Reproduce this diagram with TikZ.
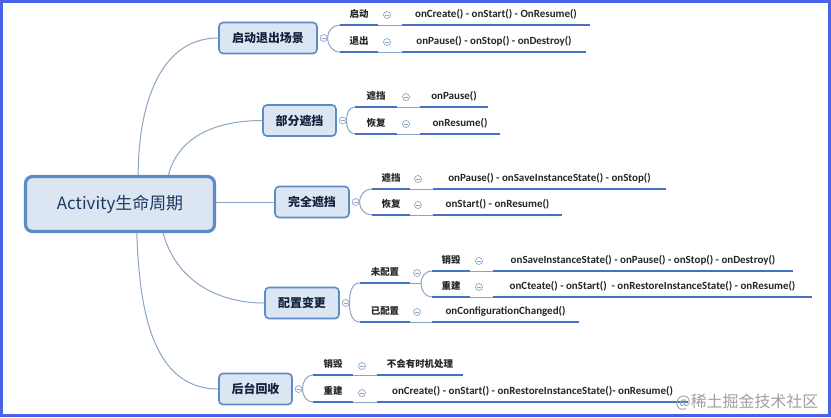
\documentclass[tikz,border=0pt]{standalone}
\usepackage{fontspec}
\usetikzlibrary{positioning}
\newfontfamily\cjk{Noto Sans CJK SC}
\newfontfamily\callfont{Carlito}
\definecolor{edgeblue}{RGB}{91,140,200}
\definecolor{fillblue}{RGB}{220,230,242}
\definecolor{twiggray}{RGB}{140,165,195}
\definecolor{lineblue}{RGB}{68,114,196}
\definecolor{rimblue}{RGB}{72,98,232}
\definecolor{inkblue}{RGB}{31,56,100}
\tikzstyle{rim}=[draw=rimblue,line width=3bp,fill=white]
\tikzstyle{root}=[rectangle,rounded corners=7bp,draw=edgeblue,line width=3.2bp,fill=fillblue,minimum width=189bp,minimum height=55bp,inner sep=0pt,font=\cjk\fontsize{17}{20}\selectfont,text=inkblue]
\tikzstyle{topic}=[rectangle,rounded corners=4bp,draw=edgeblue,line width=1.6bp,fill=fillblue,minimum height=31bp,inner sep=0pt,font=\cjk\bfseries\fontsize{12}{14}\selectfont,text=inkblue!60!black]
\tikzstyle{knob}=[circle,draw=twiggray,fill=white,line width=0.7bp,minimum size=7bp,inner sep=0pt,path picture={\draw[twiggray,line width=0.6bp] ([xshift=-2bp]path picture bounding box.center) -- ([xshift=2bp]path picture bounding box.center);}]
\tikzstyle{uline}=[draw=lineblue,line width=2.6bp]
\tikzstyle{twig}=[draw=twiggray,line width=1bp]
\tikzstyle{tagnode}=[anchor=south,inner sep=0pt,minimum height=20bp,text height=7bp,text depth=1bp,text=black!85,font=\cjk\bfseries\fontsize{9.5}{11}\selectfont,append after command={(\tikzlastnode.south west) edge[uline] (\tikzlastnode.south east)}]
\tikzstyle{callnode}=[tagnode,font=\callfont\bfseries\fontsize{11}{13}\selectfont]
\begin{document}
\begin{tikzpicture}[x=1bp,y=-1bp]
    \useasboundingbox (0,0) rectangle (831,417);
    \draw [rim] (1.5,1.5) rectangle (829.5,415.5);

    % centre and main topics
    \node (root) at (120,204) [root] {Activity生命周期};
    \node (t1) at (268,38) [topic,minimum width=98bp] {启动退出场景};
    \node (t2) at (299.5,120.5) [topic,minimum width=73bp] {部分遮挡};
    \node (t3) at (312,202) [topic,minimum width=74bp] {完全遮挡};
    \node (t4) at (302,303) [topic,minimum width=74bp] {配置变更};
    \node (t5) at (255.5,389) [topic,minimum width=73bp] {后台回收};

    \draw [twig] (root.58) to[out=90,in=180] (t1.west);
    \draw [twig] (root.31) to[out=75,in=180] (t2.west);
    \draw [twig] (root.east |- t3.west) -- (t3.west);
    \draw [twig] (root.-34) to[out=-75,in=180] (t4.west);
    \draw [twig] (root.-60) to[out=-88,in=180] (t5.west);

    \node (k1) [knob,right=2bp of t1] {};
    \node (k2) [knob,right=2bp of t2] {};
    \node (k3) [knob,right=2bp of t3] {};
    \node (k4) [knob,right=2bp of t4] {};
    \node (k5) [knob,right=2bp of t5] {};

    % 启动退出场景
    \node (g11) [tagnode,minimum width=38bp] at (359,25) {启动};
    \node (g12) [tagnode,minimum width=38bp] at (359,52) {退出};
    \node (m11) [knob] at (387,15) {};
    \node (m12) [knob] at (387,42) {};
    \node (v11) [callnode,minimum width=188bp] at (496,25) {onCreate() - onStart() - OnResume()};
    \node (v12) [callnode,minimum width=184bp] at (494,52) {onPause() - onStop() - onDestroy()};
    \draw [twig] (k1.east) to[out=90,in=180] (g11.south west);
    \draw [twig] (k1.east) to[out=-90,in=180] (g12.south west);
    \draw [twig] (g11.south east) -- (v11.south west);
    \draw [twig] (g12.south east) -- (v12.south west);

    % 部分遮挡
    \node (g21) [tagnode,minimum width=42bp] at (376,107) {遮挡};
    \node (g22) [tagnode,minimum width=42bp] at (376,134) {恢复};
    \node (m21) [knob] at (406,97) {};
    \node (m22) [knob] at (406,124) {};
    \node (v21) [callnode,minimum width=68bp] at (454,107) {onPause()};
    \node (v22) [callnode,minimum width=80bp] at (460,134) {onResume()};
    \draw [twig] (k2.east) to[out=90,in=180] (g21.south west);
    \draw [twig] (k2.east) to[out=-90,in=180] (g22.south west);
    \draw [twig] (g21.south east) -- (v21.south west);
    \draw [twig] (g22.south east) -- (v22.south west);

    % 完全遮挡
    \node (g31) [tagnode,minimum width=38bp] at (391,189) {遮挡};
    \node (g32) [tagnode,minimum width=38bp] at (391,215) {恢复};
    \node (m31) [knob] at (418,179) {};
    \node (m32) [knob] at (418,205) {};
    \node (v31) [callnode,minimum width=233bp] at (549.5,189) {onPause() - onSaveInstanceState() - onStop()};
    \node (v32) [callnode,minimum width=129bp] at (497.5,215) {onStart() - onResume()};
    \draw [twig] (k3.east) to[out=90,in=180] (g31.south west);
    \draw [twig] (k3.east) to[out=-90,in=180] (g32.south west);
    \draw [twig] (g31.south east) -- (v31.south west);
    \draw [twig] (g32.south east) -- (v32.south west);

    % 配置变更
    \node (g41) [tagnode,minimum width=50bp] at (385,283) {未配置};
    \node (g42) [tagnode,minimum width=50bp] at (385,322) {已配置};
    \node (m41) [knob] at (417,273) {};
    \node (m42) [knob] at (417,312) {};
    \coordinate (s4) at (421,283);
    \node (g43) [tagnode,minimum width=38bp] at (451,271) {销毁};
    \node (g44) [tagnode,minimum width=38bp] at (451,297) {重建};
    \node (m43) [knob] at (479,261) {};
    \node (m44) [knob] at (479,287) {};
    \node (v43) [callnode,minimum width=300bp] at (643,271) {onSaveInstanceState() - onPause() - onStop() - onDestroy()};
    \node (v44) [callnode,minimum width=319bp] at (652.5,297) {onCteate() - onStart() \ - onRestoreInstanceState() - onResume()};
    \node (v42) [callnode,minimum width=147bp] at (505.5,322) {onConfigurationChanged()};
    \draw [twig] (k4.east) to[out=90,in=180] (g41.south west);
    \draw [twig] (k4.east) to[out=-90,in=180] (g42.south west);
    \draw [twig] (g41.south east) -- (s4);
    \draw [twig] (s4) to[out=90,in=180] (g43.south west);
    \draw [twig] (s4) to[out=-90,in=180] (g44.south west);
    \draw [twig] (g43.south east) -- (v43.south west);
    \draw [twig] (g44.south east) -- (v44.south west);
    \draw [twig] (g42.south east) -- (v42.south west);

    % 后台回收
    \node (g51) [tagnode,minimum width=40bp] at (333,375) {销毁};
    \node (g52) [tagnode,minimum width=40bp] at (333,402) {重建};
    \node (m51) [knob] at (362,366) {};
    \node (m52) [knob] at (362,393) {};
    \node (v51) [tagnode,minimum width=86bp] at (420,375) {不会有时机处理};
    \node (v52) [callnode,minimum width=311bp] at (532.5,402) {onCreate() - onStart() - onRestoreInstanceState()- onResume()};
    \draw [twig] (k5.east) to[out=90,in=180] (g51.south west);
    \draw [twig] (k5.east) to[out=-90,in=180] (g52.south west);
    \draw [twig] (g51.south east) -- (v51.south west);
    \draw [twig] (g52.south east) -- (v52.south west);

    \node (wm) at (747,402) [font=\cjk\fontsize{16}{18}\selectfont,text=gray!75] {@稀土掘金技术社区};
\end{tikzpicture}
\end{document}
